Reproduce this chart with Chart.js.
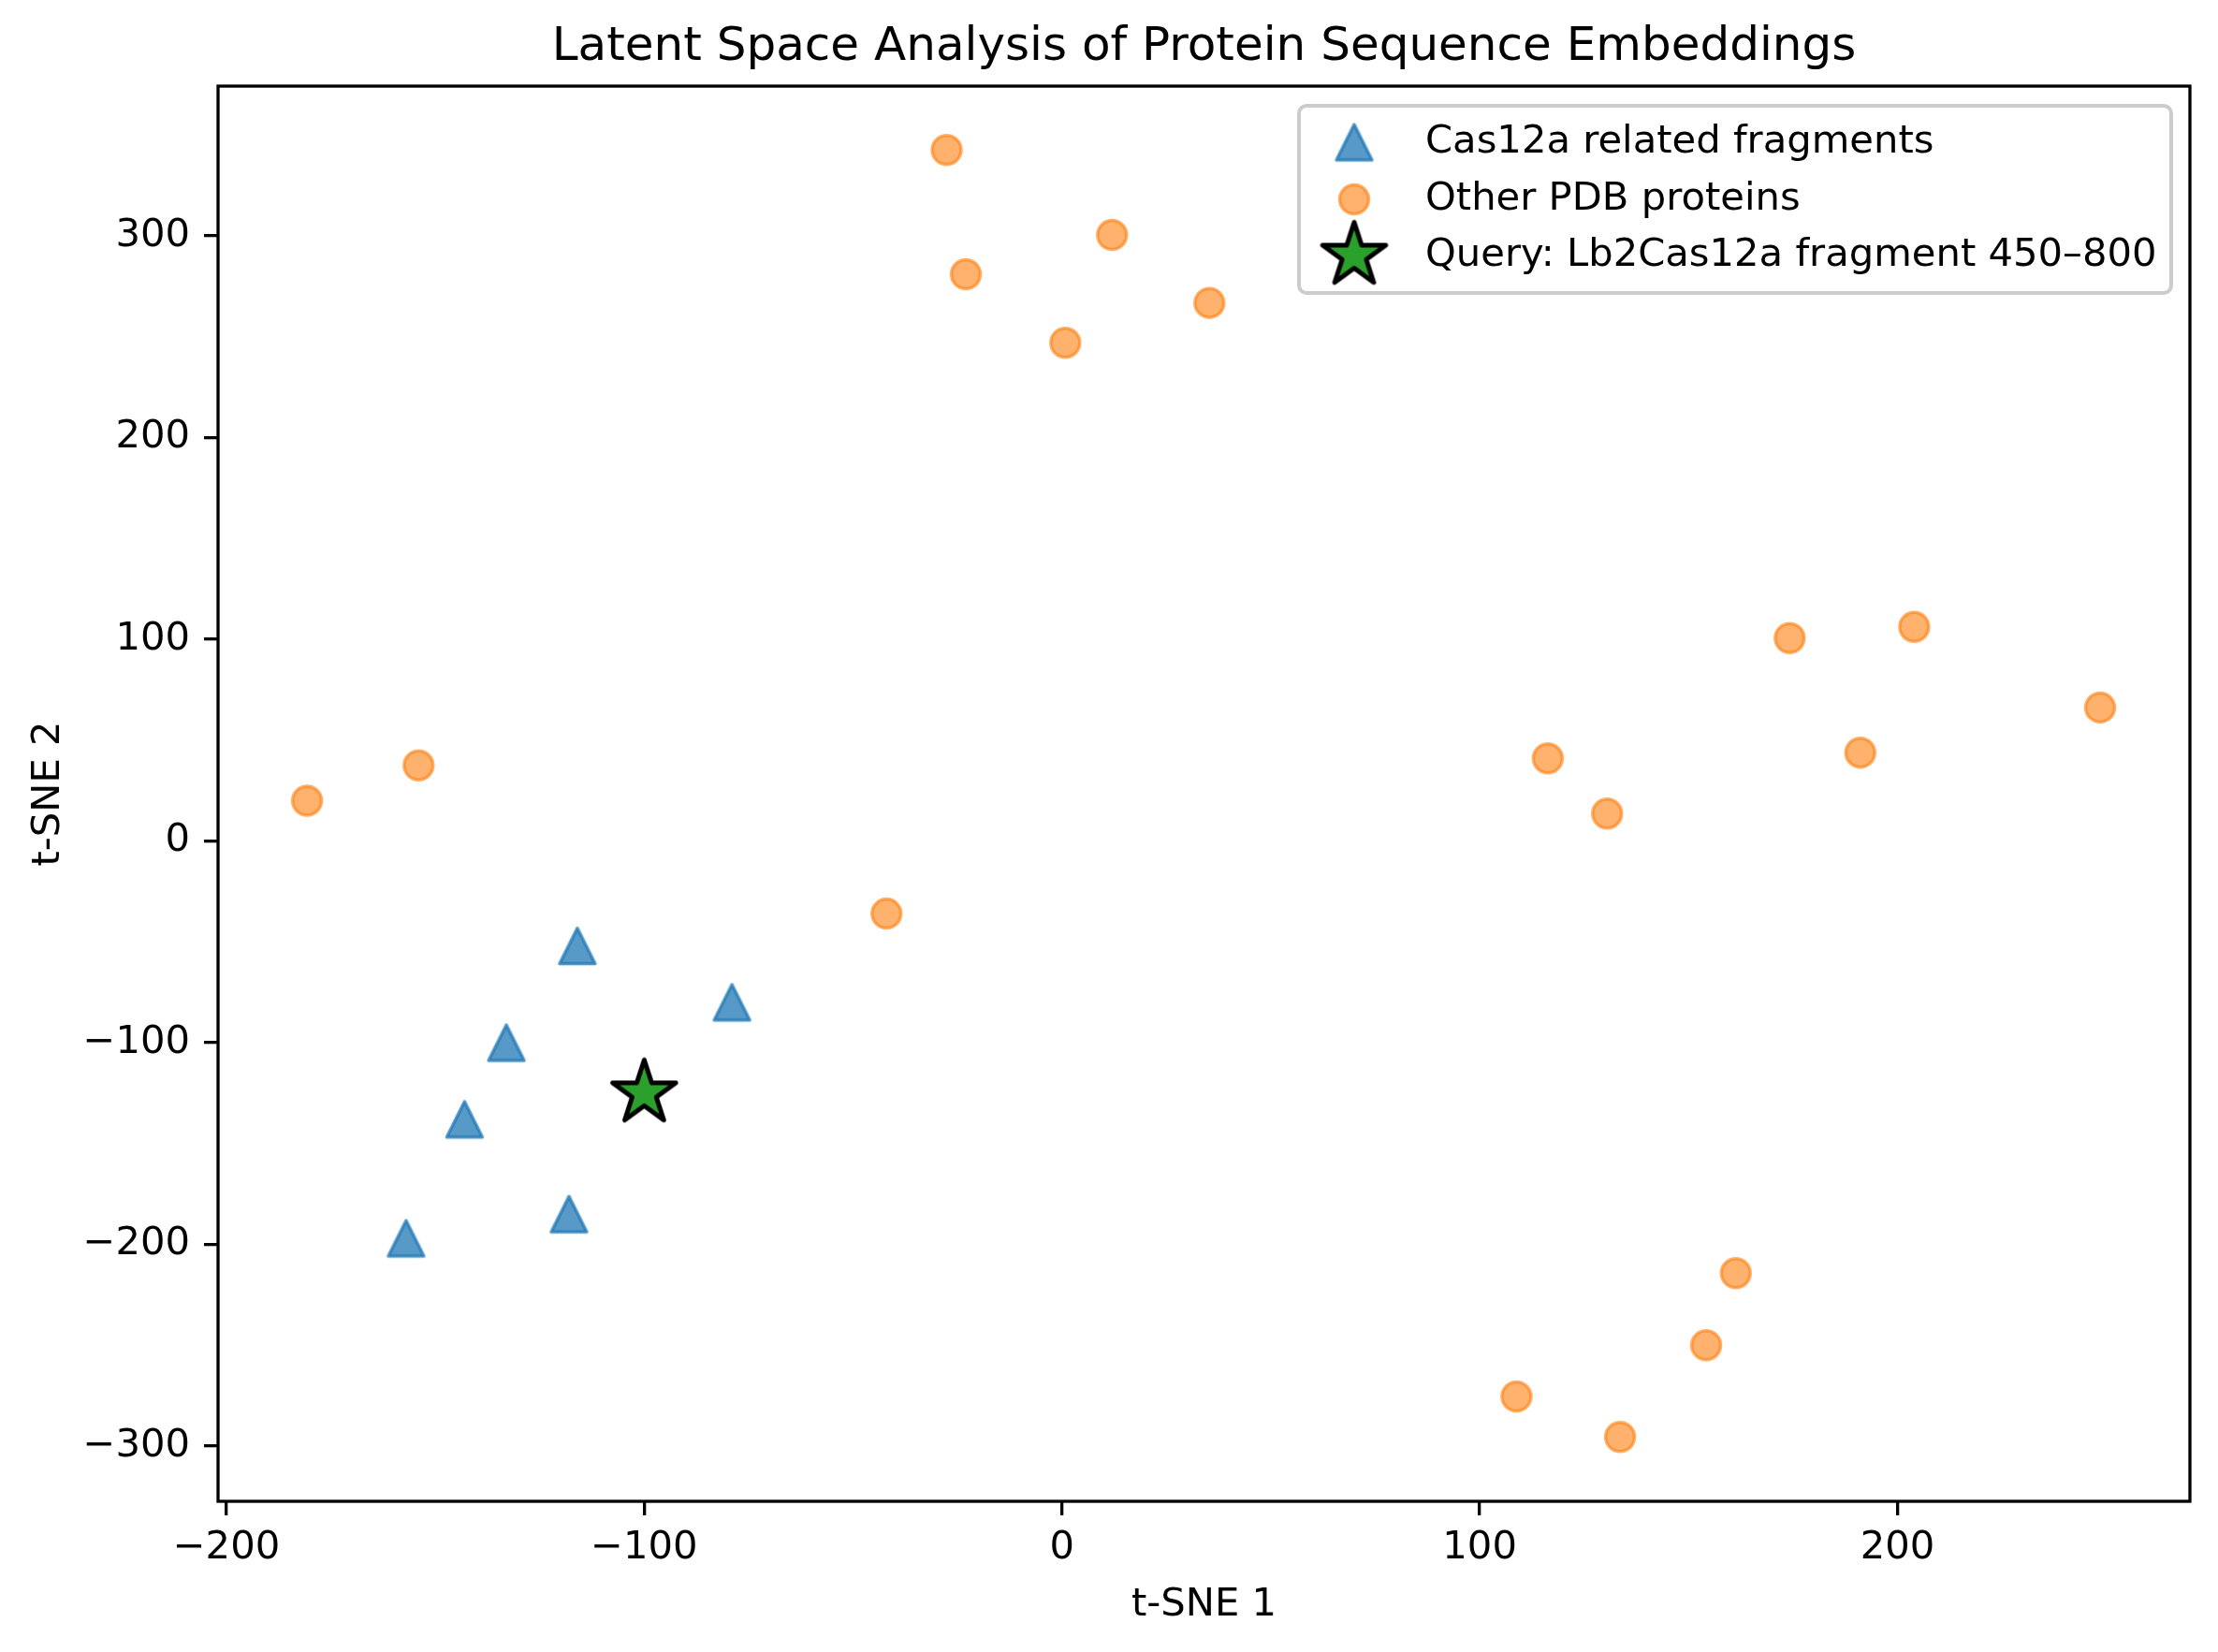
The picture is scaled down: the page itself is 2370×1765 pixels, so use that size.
<!DOCTYPE html>
<html><head><meta charset="utf-8">
<script src="https://cdn.jsdelivr.net/npm/chart.js@4.4.1/dist/chart.umd.min.js"></script>
<style>html,body{margin:0;padding:0;background:#fff;} #wrap{width:2370px;height:1765px;}</style>
</head><body><div id="wrap"><canvas id="c" width="2370" height="1765"></canvas></div>
<script>
const chartTitle = 'Latent Space Analysis of Protein Sequence Embeddings';
const xAxisTitle = 't-SNE 1';
const yAxisTitle = 't-SNE 2';
const seriesLabels = ['Cas12a related fragments', 'Other PDB proteins', 'Query: Lb2Cas12a fragment 450\u2013800'];
const cas12X = [-116, -79, -133, -143, -157, -118];
const cas12Y = [-52, -80, -100, -138, -197, -185];
const otherX = [-180.7, -154, -42, -27.6, -23, 0.8, 12, 35.3, 116.3, 130.5, 174.2, 191.1, 204, 248.5, 161.3, 154.2, 108.8, 133.6];
const otherY = [20, 37.5, -36, 342.6, 281, 247, 300.5, 266.8, 41, 13.6, 100.6, 43.8, 106.2, 66.2, -214.3, -250, -275.4, -295.5];
const queryX = [-100];
const queryY = [-125];
const xTickValues = [-200, -100, 0, 100, 200];
const yTickValues = [-300, -200, -100, 0, 100, 200, 300];
const xRange = [-202, 270];
const yRange = [-327.4, 374.3];

const FONT = 'DejaVu Sans';
const toPts = (xs, ys) => xs.map((x, i) => ({x: x, y: ys[i]}));
const fmt = v => (v < 0 ? '\u2212' + Math.abs(v) : String(v));

function makeTriangle(size, lw, fill, stroke) {
  const c = document.createElement('canvas');
  const dim = Math.ceil(size + 2 * lw + 4); c.width = dim; c.height = dim;
  const ctx = c.getContext('2d'); const cx = dim / 2, h = size / 2;
  ctx.beginPath(); ctx.moveTo(cx, cx - h); ctx.lineTo(cx - h, cx + h); ctx.lineTo(cx + h, cx + h); ctx.closePath();
  ctx.fillStyle = fill; ctx.fill();
  ctx.lineWidth = lw; ctx.strokeStyle = stroke; ctx.lineJoin = 'round'; ctx.stroke();
  return c;
}
function makeStar(R, lw, fill, stroke) {
  const c = document.createElement('canvas');
  const dim = Math.ceil(2 * R + 2 * lw + 4); c.width = dim; c.height = dim;
  const ctx = c.getContext('2d'); const cx = dim / 2; const rin = R * 0.381966;
  ctx.beginPath();
  for (let k = 0; k < 10; k++) {
    const a = -Math.PI / 2 + k * Math.PI / 5; const r = k % 2 === 0 ? R : rin;
    const px = cx + r * Math.cos(a), py = cx + r * Math.sin(a);
    if (k === 0) ctx.moveTo(px, py); else ctx.lineTo(px, py);
  }
  ctx.closePath();
  ctx.fillStyle = fill; ctx.fill();
  ctx.lineWidth = lw; ctx.strokeStyle = stroke; ctx.lineJoin = 'round'; ctx.stroke();
  return c;
}
const triImg = makeTriangle(38, 3.5, 'rgba(31,119,180,0.75)', 'rgba(31,119,180,0.75)');
const starImg = makeStar(35.5, 5, '#2ca02c', '#000000');
const orangeFill = 'rgba(255,127,14,0.6)';

const framePlugin = {
  id: 'frame',
  afterDatasetsDraw(chart) {
    const {ctx, chartArea: a} = chart;
    ctx.save(); ctx.lineWidth = 3.3; ctx.strokeStyle = '#000';
    ctx.strokeRect(a.left, a.top, a.right - a.left, a.bottom - a.top);
    ctx.restore();
  },
  afterDraw(chart) {
    const ctx = chart.ctx;
    const bx = 1388, by = 113, bw = 932, bh = 200, rad = 8;
    ctx.save();
    ctx.beginPath(); ctx.roundRect(bx, by, bw, bh, rad);
    ctx.fillStyle = 'rgba(255,255,255,0.8)'; ctx.fill();
    ctx.lineWidth = 4; ctx.strokeStyle = '#cccccc'; ctx.stroke();
    const mx = 1447, rows = [152, 213, 273], tx = 1523;
    chart.data.datasets.forEach((ds, i) => {
      const y = rows[i];
      if (ds.pointStyle === 'circle') {
        ctx.beginPath(); ctx.arc(mx, y, ds.pointRadius, 0, Math.PI * 2);
        ctx.fillStyle = ds.backgroundColor; ctx.fill();
        ctx.lineWidth = ds.borderWidth; ctx.strokeStyle = ds.borderColor; ctx.stroke();
      } else {
        const img = ds.pointStyle;
        ctx.drawImage(img, mx - img.width / 2, y - img.height / 2);
      }
      ctx.fillStyle = '#000'; ctx.font = '41.7px "' + FONT + '"';
      ctx.textBaseline = 'middle'; ctx.textAlign = 'left';
      ctx.fillText(ds.label, tx, y);
    });
    ctx.restore();
  }
};

const axisCommon = (title, ticksArr, range, isX) => ({
  type: 'linear', min: range[0], max: range[1],
  afterBuildTicks: s => { s.ticks = ticksArr.map(v => ({value: v})); },
  afterFit: s => {
    if (isX) { s.height = 161; s.paddingLeft = 0; s.paddingRight = 0; }
    else { s.width = 233; s.paddingTop = 0; s.paddingBottom = 0; }
  },
  grid: {display: true, drawOnChartArea: false, drawTicks: true, tickLength: 15, color: '#000', lineWidth: 3.3},
  border: {display: false},
  ticks: {font: {family: FONT, size: 41.7}, color: '#000', padding: isX ? 10 : 15, maxRotation: 0, autoSkip: false, callback: v => fmt(v)},
  title: {display: true, text: title, color: '#000', font: {family: FONT, size: 41.7},
          padding: isX ? {top: 0, bottom: 25} : {top: 27, bottom: 0}}
});

new Chart(document.getElementById('c'), {
  type: 'scatter',
  data: {datasets: [
    {label: seriesLabels[0], data: toPts(cas12X, cas12Y), pointStyle: triImg, pointRadius: 20, order: 3},
    {label: seriesLabels[1], data: toPts(otherX, otherY), pointStyle: 'circle', pointRadius: 15.5, borderWidth: 3.5,
     backgroundColor: orangeFill, borderColor: orangeFill, order: 2},
    {label: seriesLabels[2], data: toPts(queryX, queryY), pointStyle: starImg, pointRadius: 36, order: 1}
  ]},
  options: {
    responsive: false, animation: false, events: [],
    layout: {autoPadding: false, padding: {left: 0, right: 30, top: 0, bottom: 0}},
    plugins: {
      legend: {display: false}, tooltip: {enabled: false},
      title: {display: true, text: chartTitle, fullSize: false, color: '#000',
              font: {family: FONT, size: 50, weight: 'normal'}, padding: {top: 21, bottom: 11}}
    },
    scales: {
      x: axisCommon(xAxisTitle, xTickValues, xRange, true),
      y: axisCommon(yAxisTitle, yTickValues, yRange, false)
    }
  },
  plugins: [framePlugin]
});
</script></body></html>
